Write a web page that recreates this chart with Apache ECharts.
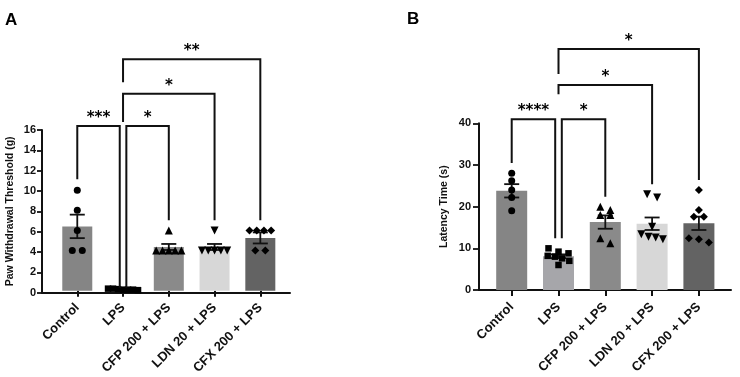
<!DOCTYPE html>
<html>
<head>
<meta charset="utf-8">
<script src="https://cdn.jsdelivr.net/npm/echarts@6/dist/echarts.min.js"></script>
<style>
html,body{margin:0;padding:0;background:#fff;}
#chart{width:740px;height:377px;}
</style>
</head>
<body>
<div id="chart"></div>
<script>
// ---------- data ----------
const categories = ['Control', 'LPS', 'CFP 200 + LPS', 'LDN 20 + LPS', 'CFX 200 + LPS'];

// Panel A: Paw Withdrawal Threshold (g)
const meansA = [6.4, 0.13, 4.35, 4.35, 5.25];
const semsA = [1.17, 0.03, 0.3, 0.3, 0.55];
const pointsA = [
  [10, 8, 6, 4, 4],
  [0.2, 0.2, 0.15, 0.1, 0.1, 0.1, 0.05],
  [6, 4, 4, 4, 4, 4],
  [6, 4, 4, 4, 4, 4],
  [6, 6, 6, 6, 4, 4]
];
// [from, to, top, left leg end, right leg end]
const bracketsA = [
  [0, 1, 16.4, 11.1, 0.3],
  [1, 2, 16.4, 0.3, 7.0],
  [1, 3, 19.6, 16.8, 7.0],
  [1, 4, 23.05, 20.75, 7.0]
];
const bracketLabelsA = ['***', '*', '*', '**'];

// Panel B: Latency Time (s)
const meansB = [23.8, 8.1, 16.3, 15.9, 16.0];
const semsB = [1.6, 0.45, 1.6, 1.5, 1.6];
const pointsB = [
  [28, 26.2, 24, 22.2, 19],
  [10, 9.2, 8.8, 8.2, 8, 7.6, 7, 6],
  [20, 19.2, 18, 18, 12.4, 11.2],
  [23, 22.2, 15.2, 13.4, 12.8, 12.6, 12.2],
  [24, 19.2, 17.6, 17.6, 12.4, 12.2, 11.4]
];
const bracketsB = [
  [0, 1, 41.0, 30.5, 12.4],
  [1, 2, 41.0, 12.4, 22.4],
  [1, 3, 49.2, 47.0, 25.4],
  [1, 4, 57.8, 51.8, 26.4]
];
const bracketLabelsB = ['****', '*', '*', '*'];

// ---------- styles ----------
const barColors = ['#858585', '#a6a6aa', '#8a8a8a', '#d7d7d7', '#636363'];
const markerShapes = ['circle', 'rect', 'triangle', 'triangle', 'diamond'];
const markerRotate = [0, 0, 0, 180, 0];
const markerSizes = [7, 6.5, 8, 8, 8];
const FONT = 'Liberation Sans, Arial, sans-serif';
const INK = '#111';
const hubIndex = 1;

function jitterOffsets(vals, thr) {
  const order = vals.map((v, i) => i).sort((a, b) => vals[b] - vals[a]);
  const offs = new Array(vals.length).fill(0);
  let cluster = [];
  const flush = () => {
    const n = cluster.length;
    const sp = n <= 3 ? 10 : (n === 4 ? 7.2 : (n === 5 ? 6.3 : 5));
    cluster.forEach((idx, k) => { offs[idx] = (k - (n - 1) / 2) * sp; });
    cluster = [];
  };
  order.forEach(i => {
    if (cluster.length && vals[cluster[0]] - vals[i] > thr) flush();
    cluster.push(i);
  });
  flush();
  return offs;
}

function pointData(points, thr) {
  const out = [];
  points.forEach((vals, c) => {
    const offs = jitterOffsets(vals, thr);
    vals.forEach((v, k) => out.push({
      value: [c, v],
      symbol: markerShapes[c],
      symbolRotate: markerRotate[c],
      symbolSize: markerSizes[c],
      symbolOffset: [offs[k], 0]
    }));
  });
  return out;
}

function errorRender(params, api) {
  const x = api.value(0), m = api.value(1), s = api.value(2);
  const pt = api.coord([x, m + s]);
  const pb = api.coord([x, m - s]);
  const hw = 7.5;
  const st = { stroke: INK, lineWidth: 1.8 };
  return {
    type: 'group',
    children: [
      { type: 'line', shape: { x1: pt[0], y1: pt[1], x2: pb[0], y2: pb[1] }, style: st },
      { type: 'line', shape: { x1: pt[0] - hw, y1: pt[1], x2: pt[0] + hw, y2: pt[1] }, style: st },
      { type: 'line', shape: { x1: pb[0] - hw, y1: pb[1], x2: pb[0] + hw, y2: pb[1] }, style: st }
    ]
  };
}

function bracketRender(labels) {
  return function (params, api) {
    const f = api.value(0), t = api.value(1), top = api.value(2), le = api.value(3), re = api.value(4);
    let xl = api.coord([f, top])[0];
    let xr = api.coord([t, top])[0];
    if (t - f === 1) {
      if (f === hubIndex) xl += 3.3;
      if (t === hubIndex) xr -= 3.3;
    }
    const yTop = api.coord([f, top])[1];
    const yl = api.coord([f, le])[1];
    const yr = api.coord([t, re])[1];
    return {
      type: 'group',
      children: [
        { type: 'polyline', shape: { points: [[xl, yl], [xl, yTop], [xr, yTop], [xr, yr]] },
          style: { stroke: INK, lineWidth: 2, fill: null } },
        { type: 'text', style: { text: labels[params.dataIndex], x: (xl + xr) / 2, y: yTop - 8,
          align: 'center', verticalAlign: 'middle', fontSize: 15, fontWeight: 'bold',
          fontFamily: 'DejaVu Sans, sans-serif', fill: '#000' } }
      ]
    };
  };
}

function panel(frame, bars, yMax, yInterval, yName, nameGap, labelMargin, tickLen, fi, bi) {
  const grids = [
    { left: frame.left, top: frame.top, width: frame.width, height: frame.height },
    { left: bars.left, top: frame.top, width: bars.width, height: frame.height }
  ];
  const xAxes = [
    { type: 'value', gridIndex: fi, min: 0, max: 1, axisLine: { show: true, lineStyle: { color: INK, width: 2 } },
      axisTick: { show: false }, axisLabel: { show: false }, splitLine: { show: false } },
    { type: 'category', gridIndex: bi, data: categories,
      axisLine: { show: false },
      axisTick: { show: true, alignWithLabel: true, length: 6, lineStyle: { color: INK, width: 2 } },
      axisLabel: { rotate: 45, interval: 0, margin: 15, fontSize: 13, fontWeight: 'bold', color: '#111', fontFamily: FONT },
      splitLine: { show: false } }
  ];
  const yAxes = [
    { type: 'value', gridIndex: fi, min: 0, max: yMax, interval: yInterval,
      axisLine: { show: true, lineStyle: { color: INK, width: 2 } },
      axisTick: { show: true, length: tickLen, lineStyle: { color: INK, width: 1.8 } },
      axisLabel: { fontSize: 11, fontWeight: 'bold', color: '#111', margin: labelMargin, fontFamily: FONT },
      splitLine: { show: false },
      name: yName, nameLocation: 'middle', nameGap: nameGap,
      nameTextStyle: { fontSize: 10.5, fontWeight: 'bold', color: '#111', fontFamily: FONT } },
    { type: 'value', gridIndex: bi, min: 0, max: yMax, show: false, splitLine: { show: false } }
  ];
  return { grids, xAxes, yAxes };
}

const pA = panel({ left: 42, top: 130, width: 248, height: 162.7 }, { left: 54.4, width: 228.8 },
  16, 2, 'Paw Withdrawal Threshold (g)', 26, 6, 5, 0, 1);
const pB = panel({ left: 479, top: 123.3, width: 252, height: 166.7 }, { left: 488.3, width: 234 },
  40, 10, 'Latency Time (s)', 29, 8, 6, 2, 3);

function seriesFor(means, sems, points, brackets, labels, thr, xi, yi, bw) {
  return [
    { type: 'bar', xAxisIndex: xi, yAxisIndex: yi, barWidth: bw, z: 2,
      data: means.map((m, i) => ({ value: m, itemStyle: { color: barColors[i] } })) },
    { type: 'custom', xAxisIndex: xi, yAxisIndex: yi, z: 3, renderItem: errorRender,
      encode: { x: 0, y: 1 }, data: means.map((m, i) => [i, m, sems[i]]) },
    { type: 'scatter', xAxisIndex: xi, yAxisIndex: yi, z: 4,
      itemStyle: { color: '#000', opacity: 1 }, data: pointData(points, thr) },
    { type: 'custom', xAxisIndex: xi, yAxisIndex: yi, z: 5, clip: false, renderItem: bracketRender(labels),
      encode: { x: [0, 1], y: [2, 3, 4] }, data: brackets }
  ];
}

const chart = echarts.init(document.getElementById('chart'), null, { renderer: 'canvas' });
chart.setOption({
  animation: false,
  backgroundColor: '#fff',
  title: [
    { text: 'A', left: 5, top: 12, padding: 0, textStyle: { fontSize: 17, fontWeight: 'bold', color: '#000', fontFamily: FONT } },
    { text: 'B', left: 407, top: 11, padding: 0, textStyle: { fontSize: 17, fontWeight: 'bold', color: '#000', fontFamily: FONT } }
  ],
  grid: pA.grids.concat(pB.grids),
  xAxis: pA.xAxes.concat(pB.xAxes),
  yAxis: pA.yAxes.concat(pB.yAxes),
  series: seriesFor(meansA, semsA, pointsA, bracketsA, bracketLabelsA, 16 * 0.035, 1, 1, 30)
    .concat(seriesFor(meansB, semsB, pointsB, bracketsB, bracketLabelsB, 40 * 0.035, 3, 3, 31))
});
</script>
</body>
</html>
